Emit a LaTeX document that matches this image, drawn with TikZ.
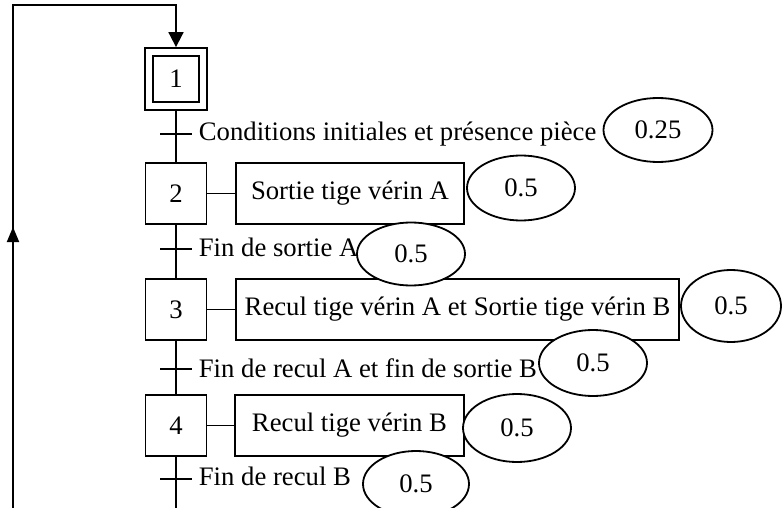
\documentclass[tikz,border=0pt]{standalone}
\usepackage{fontspec}
\setmainfont{Liberation Serif}
\usetikzlibrary{arrows.meta,shapes.geometric}
\begin{document}
\begin{tikzpicture}[x=1pt,y=-1pt,line width=1.8pt,
  every node/.style={font=\fontsize{26.7}{30}\selectfont},
  stepbox/.style={draw,minimum width=61pt,minimum height=61pt,inner sep=0pt},
  actbox/.style={draw,minimum height=61pt,inner sep=0pt},
  note/.style={draw,ellipse,fill=white,inner sep=0pt,minimum width=108pt,minimum height=65pt},
  translabel/.style={anchor=base west,inner sep=0pt},
  tickline/.style={line width=1.8pt}]
\useasboundingbox (0,0) rectangle (782,508);

% steps
\node[stepbox,minimum width=62pt,minimum height=62pt] (s1) at (176,79) {};
\node[draw,minimum width=46pt,minimum height=46pt,inner sep=0pt] (s1i) at (176,79) {1};
\node[stepbox] (s2) at (176,193.5) {2};
\node[stepbox] (s3) at (176,309.5) {3};
\node[stepbox] (s4) at (176,425.5) {4};

% actions
\node[actbox,minimum width=228pt] (a2) at (350,193.5) {Sortie tige vérin A};
\node[actbox,minimum width=443pt] (a3) at (457.5,309.5) {Recul tige vérin A et Sortie tige vérin B};
\node[actbox,minimum width=229pt] (a4) at (349.5,425.5) {Recul tige vérin B};
\draw (s2.east) -- (a2.west);
\draw (s3.east) -- (a3.west);
\draw (s4.east) -- (a4.west);

% links
\coordinate (bot) at (176,512);
\draw (s1.south) -- (s2.north);
\draw (s2.south) -- (s3.north);
\draw (s3.south) -- (s4.north);
\draw (s4.south) -- (bot);

% transitions
\coordinate (t1) at (176,134);
\coordinate (t2) at (176,249);
\coordinate (t3) at (176,369);
\coordinate (t4) at (176,479);
\foreach \t in {t1,t2,t3,t4}{
  \draw[tickline] ([xshift=-16pt]\t) -- ([xshift=16pt]\t);
}
\node[translabel] (l1) at (198,141) {Conditions initiales et présence pièce};
\node[translabel] (l2) at (198,256) {Fin de sortie A};
\node[translabel] (l3) at (198,377) {Fin de recul A et fin de sortie B};
\node[translabel] (l4) at (198,485) {Fin de recul B};

% loop back
\coordinate (lb) at (13,512);
\coordinate (lt) at (13,5);
\coordinate (rt) at (176,5);
\draw[-{Triangle[length=15pt,width=15pt]}] (lb) -- (lt) -- (rt) -- (s1.north);
\coordinate (ua0) at (13,243);
\coordinate (ua1) at (13,227);
\draw[-{Triangle[length=15pt,width=12pt]}] (ua0) -- (ua1);

% marks
\node[note,minimum width=109pt,minimum height=64pt] (e1) at (658,130) {0.25};
\node[note] (e2) at (521,188) {0.5};
\node[note,minimum height=63pt] (e3) at (411,254) {0.5};
\node[note,minimum width=100pt,minimum height=72pt] (e4) at (731,306) {0.5};
\node[note,minimum height=66pt] (e5) at (593,363) {0.5};
\node[note,minimum height=68pt] (e6) at (517,428) {0.5};
\node[note,minimum width=106pt,minimum height=66pt] (e7) at (416,484) {0.5};
\end{tikzpicture}
\end{document}
